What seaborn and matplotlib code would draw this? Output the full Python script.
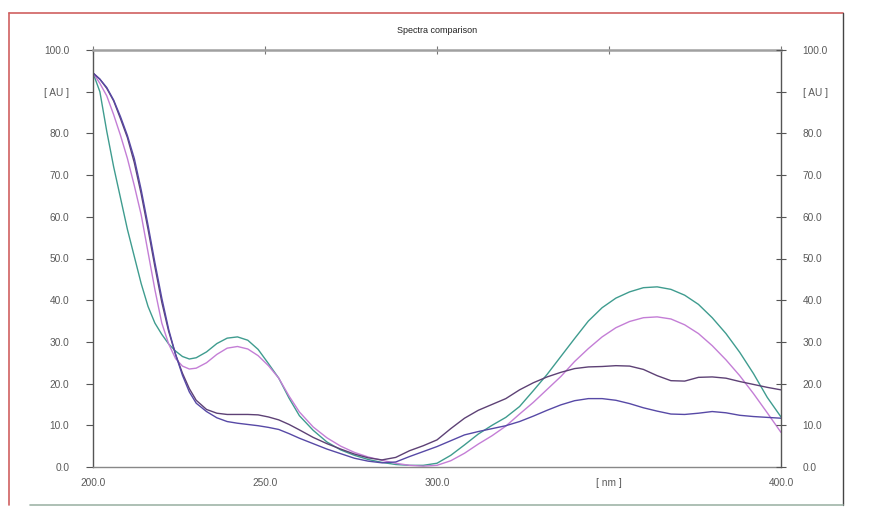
import numpy as np
import pandas as pd
import matplotlib
matplotlib.use("Agg")
import matplotlib.pyplot as plt
import seaborn as sns
from matplotlib.lines import Line2D

sns.set_style("white")
plt.rcParams['font.family'] = ['Liberation Sans', 'DejaVu Sans']

# wavelength grid (nm) shared by all spectra
wavelength = [200, 202, 204, 206, 208, 210, 212, 214, 216, 218, 220, 222, 224, 226, 228,
              230, 233, 236, 239, 242, 245, 248, 251, 254, 257, 260, 264, 268, 272, 276,
              280, 284, 288, 292, 296, 300, 304, 308, 312, 316, 320, 324, 328, 332, 336,
              340, 344, 348, 352, 356, 360, 364, 368, 372, 376, 380, 384, 388, 392, 396, 400]

teal = [94.5, 90.0, 80.5, 72.0, 64.5, 57.0, 50.5, 44.0, 38.5, 34.5, 31.8, 29.5, 27.8, 26.5, 25.9,
        26.2, 27.6, 29.6, 30.9, 31.2, 30.4, 28.2, 24.8, 21.3, 16.5, 12.3, 8.8, 6.0, 4.1, 2.8,
        1.8, 1.1, 0.6, 0.4, 0.4, 0.9, 2.8, 5.3, 7.9, 10.0, 11.9, 14.5, 18.3, 22.2, 26.5,
        30.8, 35.0, 38.2, 40.5, 42.0, 43.0, 43.2, 42.6, 41.2, 39.0, 35.8, 32.0, 27.5, 22.4, 16.7, 12.0]

magenta = [94.5, 92.0, 89.0, 84.5, 79.5, 74.0, 67.5, 60.5, 51.5, 42.5, 34.5, 29.5, 26.0, 24.2, 23.5,
           23.7, 25.0, 27.0, 28.5, 28.9, 28.3, 26.7, 24.3, 21.3, 17.0, 13.2, 9.6, 7.0, 5.0, 3.5,
           2.4, 1.6, 0.9, 0.4, 0.2, 0.4, 1.5, 3.3, 5.5, 7.5, 9.8, 12.7, 15.5, 18.6, 21.7,
           25.3, 28.4, 31.2, 33.4, 34.9, 35.8, 36.0, 35.5, 34.1, 32.0, 29.1, 25.7, 21.9, 17.6, 13.0, 8.3]

dark_purple = [94.5, 93.0, 90.8, 87.8, 83.5, 79.0, 73.0, 65.5, 57.0, 48.0, 39.5, 32.5, 27.0, 22.5, 18.8,
               16.0, 13.8, 12.9, 12.6, 12.6, 12.6, 12.5, 12.0, 11.3, 10.2, 8.9, 7.1, 5.6, 4.3, 3.1,
               2.2, 1.7, 2.3, 3.9, 5.1, 6.5, 9.2, 11.7, 13.6, 15.0, 16.4, 18.5, 20.2, 21.6, 22.7,
               23.6, 24.0, 24.1, 24.3, 24.2, 23.4, 21.9, 20.7, 20.6, 21.5, 21.6, 21.3, 20.5, 19.8, 19.1, 18.5]

blue_purple = [94.5, 93.0, 91.0, 88.0, 84.0, 79.5, 74.0, 66.5, 58.0, 49.0, 40.5, 33.0, 27.0, 22.0, 18.0,
               15.3, 13.3, 11.8, 10.9, 10.5, 10.2, 9.9, 9.5, 9.0, 8.0, 6.9, 5.6, 4.3, 3.2, 2.1,
               1.4, 1.0, 1.2, 2.5, 3.7, 4.9, 6.3, 7.7, 8.5, 9.2, 9.9, 10.9, 12.2, 13.6, 14.9,
               15.9, 16.4, 16.4, 16.0, 15.2, 14.2, 13.4, 12.7, 12.6, 12.9, 13.3, 13.0, 12.4, 12.1, 11.9, 11.7]

x_ticks = [200, 250, 300, 350, 400]
x_labels = ["200.0", "250.0", "300.0", "[ nm ]", "400.0"]
y_ticks = list(range(0, 101, 10))
y_labels = ["[ AU ]" if v == 90 else f"{v:.1f}" for v in y_ticks]

series = [("s1", teal, "#3f9c8f"),
          ("s2", magenta, "#c47ed6"),
          ("s3", dark_purple, "#5d4175"),
          ("s4", blue_purple, "#5749a6")]

df = pd.concat([pd.DataFrame({"nm": wavelength, "AU": vals, "spectrum": name})
                for name, vals, _ in series], ignore_index=True)
palette = {name: c for name, _, c in series}

fig = plt.figure(figsize=(8.76, 5.09), dpi=100)
ax = fig.add_axes([93/876, 1 - 467/509, (781-93)/876, (467-50)/509])

sns.lineplot(data=df, x="nm", y="AU", hue="spectrum", palette=palette,
             linewidth=1.0, legend=False, sort=False, ax=ax)

ax.set_xlim(200, 400)
ax.set_ylim(0, 100)
ax.set_xlabel("")
ax.set_ylabel("")
ax.set_xticks(x_ticks)
ax.set_xticklabels(x_labels)
ax.set_yticks(y_ticks)
ax.set_yticklabels(y_labels)

lab_col = "#5a5a5a"
ax.tick_params(axis="y", direction="out", length=5, width=0.8, color="#555555",
               pad=12, labelsize=7.3, labelcolor=lab_col)
ax.tick_params(axis="x", direction="inout", length=6, width=0.8, color="#777777",
               pad=5, labelsize=7.3, labelcolor=lab_col, top=True)

for side in ["left", "right"]:
    ax.spines[side].set_color("#555555")
    ax.spines[side].set_linewidth(1.0)
ax.spines["bottom"].set_color("#888888")
ax.spines["bottom"].set_linewidth(1.0)
ax.spines["top"].set_color("#a0a0a0")
ax.spines["top"].set_linewidth(1.8)

# right-hand axis repeats the left scale
ax2 = ax.twinx()
ax2.set_ylim(0, 100)
ax2.set_yticks(y_ticks)
ax2.set_yticklabels(y_labels)
ax2.tick_params(axis="y", direction="inout", length=7, width=0.8, color="#555555",
                pad=12, labelsize=7.3, labelcolor=lab_col)
for s in ax2.spines.values():
    s.set_visible(False)

ax.set_title("Spectra comparison", fontsize=6.5, color="#222222", pad=12)

# outer frame of the original report
fig.add_artist(Line2D([9/876, 843/876], [1 - 13/509, 1 - 13/509], color="#d06060", lw=1.2))
fig.add_artist(Line2D([9/876, 9/876], [1 - 13/509, 1 - 505/509], color="#d06060", lw=1.2))
fig.add_artist(Line2D([843/876, 843/876], [1 - 13/509, 1 - 505/509], color="#444444", lw=1.0))
fig.add_artist(Line2D([30/876, 843/876], [1 - 505/509, 1 - 505/509], color="#9fb5a8", lw=1.2))

fig.savefig("out.png", dpi=100)
